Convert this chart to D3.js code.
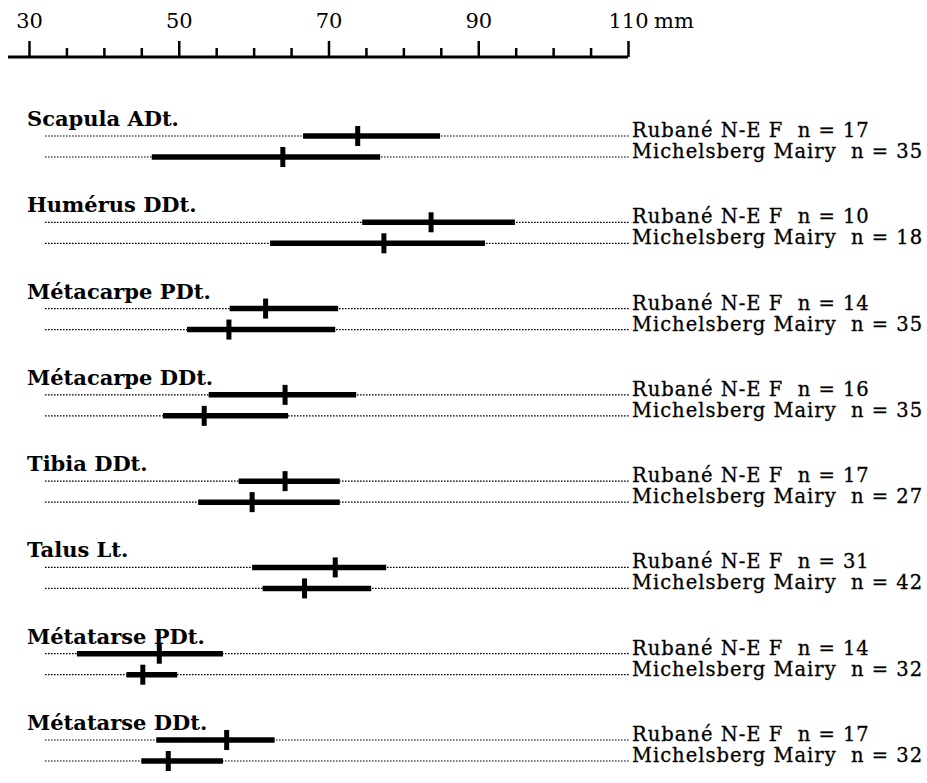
<!DOCTYPE html>
<html>
<head>
<meta charset="utf-8">
<script src="https://d3js.org/d3.v7.min.js"></script>
<style>
    body { margin: 0; background: #fff; }
    text { font-family: "DejaVu Serif", serif; fill: #000; }
    .cat-label { font-weight: bold; font-size: 21px; }
    .grp-label { font-size: 19.5px; letter-spacing: 1px; stroke: #000; stroke-width: 0.3px; }
    .axis text { font-size: 21px; }
</style>
</head>
<body>
<div id="chart"></div>
<script>

// measured elements (mm)
var elements = ["Scapula ADt.", "Humérus DDt.", "Métacarpe PDt.", "Métacarpe DDt.",
    "Tibia DDt.", "Talus Lt.", "Métatarse PDt.", "Métatarse DDt."];

var groups = ["Rubané N-E F", "Michelsberg Mairy"];

// Rubané N-E F
var rubaneMin  = [66.6, 74.5, 56.8, 54.0, 58.0, 59.8, 36.4, 47.0];
var rubaneMean = [73.9, 83.7, 61.6, 64.2, 64.2, 70.9, 47.4, 56.4];
var rubaneMax  = [84.9, 94.9, 71.3, 73.7, 71.5, 77.7, 55.9, 62.8];
var rubaneN    = [17, 10, 14, 16, 17, 31, 14, 17];

// Michelsberg Mairy
var michMin  = [46.4, 62.2, 51.1, 47.9, 52.6, 61.2, 43.0, 45.0];
var michMean = [63.9, 77.4, 56.7, 53.4, 59.8, 66.8, 45.2, 48.6];
var michMax  = [76.9, 90.9, 70.9, 64.6, 71.5, 75.7, 49.8, 55.9];
var michN    = [35, 18, 35, 35, 27, 42, 32, 32];

// scale ticks
var majorTicks = [30, 50, 70, 90, 110];
var minorTicks = [35, 40, 45, 55, 60, 65, 75, 80, 85, 95, 100, 105];
var unitLabel = "mm";

// build rows from the arrays
var rows = [];
elements.forEach(function(el, i){
    rows.push({element: el, group: 0, min: rubaneMin[i], mean: rubaneMean[i], max: rubaneMax[i], n: rubaneN[i]});
    rows.push({element: el, group: 1, min: michMin[i], mean: michMean[i], max: michMax[i], n: michN[i]});
});

var width = 927, height = 783;

var svg = d3.select("#chart").append("svg")
    .attr("width", width)
    .attr("height", height);

// scales
var x = d3.scaleLinear()
    .domain([30, 110])
    .range([29, 628]);

var y = d3.scalePoint()
    .domain(elements)
    .range([136, 740]);

var groupOffset = [0, 21];
var axisY = 57;
var lineStart = 45;
var labelX = 632;

function rowY(d){ return y(d.element) + groupOffset[d.group]; }

// --> AXIS (scale bar at the top)
var axisG = svg.append("g")
    .attr("class", "axis")
    .attr("transform", "translate(0," + axisY + ")");

axisG.append("line")
    .attr("x1", x.range()[0] - 21)
    .attr("x2", x.range()[1])
    .attr("stroke", "#000")
    .attr("stroke-width", 3);

var majorAxis = d3.axisTop(x)
    .tickValues(majorTicks)
    .tickSize(16)
    .tickSizeOuter(0)
    .tickPadding(13)
    .tickFormat(d3.format("d"));

var minorAxis = d3.axisTop(x)
    .tickValues(minorTicks)
    .tickSize(9)
    .tickSizeOuter(0)
    .tickFormat("");

axisG.append("g").call(minorAxis);
axisG.append("g").attr("class", "major").call(majorAxis);

axisG.selectAll(".domain").remove();
axisG.selectAll(".tick line")
    .attr("stroke", "#000")
    .attr("stroke-width", 2.5);
axisG.selectAll(".tick text")
    .attr("fill", "#000")
    .style("font-family", "DejaVu Serif, serif")
    .style("font-size", "21px");

// unit after the last label
var lastLabel = axisG.select(".major").selectAll(".tick text").filter(function(d){ return d == majorTicks[majorTicks.length - 1]; });
var lastW = lastLabel.node().getComputedTextLength();
axisG.append("text")
    .attr("x", x(majorTicks[majorTicks.length - 1]) + lastW / 2 + 6)
    .attr("y", -29)
    .style("font-size", "21px")
    .text(unitLabel);

// category labels
svg.selectAll(".cat-label")
    .data(elements)
    .enter()
    .append("text")
    .attr("class", "cat-label")
    .attr("x", 27)
    .attr("y", function(d){ return y(d) - 10; })
    .text(function(d){ return d; });

// dotted guide lines
svg.selectAll(".guide")
    .data(rows)
    .enter()
    .append("line")
    .attr("class", "guide")
    .attr("x1", lineStart)
    .attr("x2", labelX - 2)
    .attr("y1", rowY)
    .attr("y2", rowY)
    .attr("stroke", "#000")
    .attr("stroke-width", 1.2)
    .attr("stroke-dasharray", "1.6,1.4");

// range bars
svg.selectAll(".range-bar")
    .data(rows)
    .enter()
    .append("line")
    .attr("class", "range-bar")
    .attr("x1", function(d){ return x(d.min); })
    .attr("x2", function(d){ return x(d.max); })
    .attr("y1", rowY)
    .attr("y2", rowY)
    .attr("stroke", "#000")
    .attr("stroke-width", 5.5);

// mean marks
svg.selectAll(".mean-mark")
    .data(rows)
    .enter()
    .append("line")
    .attr("class", "mean-mark")
    .attr("x1", function(d){ return x(d.mean); })
    .attr("x2", function(d){ return x(d.mean); })
    .attr("y1", function(d){ return rowY(d) - 10; })
    .attr("y2", function(d){ return rowY(d) + 10; })
    .attr("stroke", "#000")
    .attr("stroke-width", 5);

// group labels on the right
svg.selectAll(".grp-label")
    .data(rows)
    .enter()
    .append("text")
    .attr("class", "grp-label")
    .attr("x", labelX)
    .attr("y", function(d){ return rowY(d) + 1; })
    .attr("xml:space", "preserve")
    .text(function(d){ return groups[d.group] + "  n = " + d.n; });

</script>
</body>
</html>
